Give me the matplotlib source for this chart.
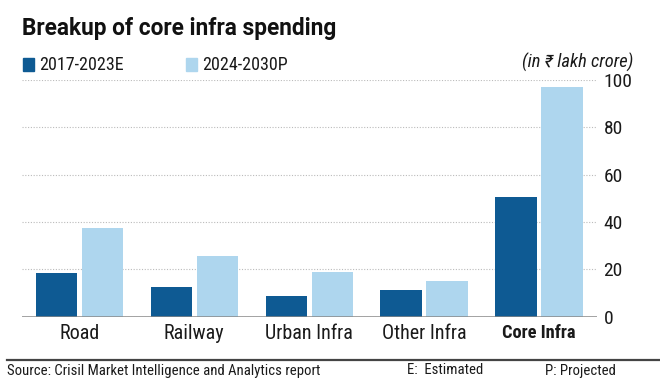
import matplotlib
matplotlib.use("Agg")
import matplotlib.pyplot as plt
from matplotlib import font_manager as fm
import numpy as np

categories = ["Road", "Railway", "Urban Infra", "Other Infra", "Core Infra"]
series_2017 = [18.4, 12.4, 8.6, 11.3, 50.6]
series_2024 = [37.3, 25.7, 18.9, 15.3, 97.0]
legend_labels = ["2017-2023E", "2024-2030P"]
y_ticks = [0, 20, 40, 60, 80, 100]

names = {f.name for f in fm.fontManager.ttflist}
COND = None
for cand in ["Roboto Condensed", "Noto Sans Condensed", "Open Sans Condensed",
             "Liberation Sans Narrow", "Noto Sans Display Condensed"]:
    if cand in names:
        COND = cand
        break
BODY = COND if COND else "Roboto"
plt.rcParams['font.family'] = [BODY, 'DejaVu Sans']
s = 1.0 if COND else 0.86  # shrink sizes if no condensed face

DARK = "#0e5a93"
LIGHT = "#aed6ee"
TXT = "#1a1a1a"

fig = plt.figure(figsize=(6.6, 3.78), dpi=100)
ax = fig.add_axes([0.033, 0.162, 0.871, 0.627])

x = np.arange(len(categories))
w = 0.36
ax.bar(x - 0.2, series_2017, width=w, color=DARK, zorder=3)
ax.bar(x + 0.2, series_2024, width=w, color=LIGHT, zorder=3)

ax.set_xlim(-0.5, len(categories) - 0.5)
ax.set_ylim(0, 100)
ax.yaxis.tick_right()
ax.set_yticks(y_ticks)
ax.tick_params(axis='y', length=0, pad=5, labelsize=14 * s, labelcolor=TXT)
ax.set_xticks(x)
ax.set_xticklabels(categories)
ax.tick_params(axis='x', length=0, pad=5, labelsize=14.5 * s, labelcolor=TXT)
lbl = ax.get_xticklabels()[-1]
lbl.set_fontweight('bold')
lbl.set_fontsize(13.2 * s)
for sp in ax.spines.values():
    sp.set_visible(False)
ax.grid(axis='y', linestyle=(0, (1, 1.5)), color="#bbbbbb", linewidth=0.8, zorder=0)
ax.axhline(0, color="#888888", linewidth=1.8, zorder=4)

fig.text(22 / 660, 1 - 34.5 / 378, "Breakup of core infra spending", fontsize=16.3,
         fontweight='bold', family=["Roboto", "DejaVu Sans"],
         color="#111111", va='baseline', ha='left')

# legend
for i, (lab, col) in enumerate(zip(legend_labels, [DARK, LIGHT])):
    x0 = [22.5, 185.5][i] / 660
    fig.patches.append(plt.Rectangle((x0, 1 - 70.7 / 378), 11.5 / 660, 12.3 / 378,
                                     transform=fig.transFigure, color=col, figure=fig))
    fig.text(x0 + 16.5 / 660, 1 - 64.5 / 378, lab, fontsize=13.0 * s, va='center',
             ha='left', color=TXT)

fig.text(633 / 660, 1 - 62 / 378, "(in ₹ lakh crore)", fontsize=13.3 * s, style='italic',
         va='center', ha='right', color=TXT)

fig.add_artist(plt.Line2D([7 / 660, 1.0], [1 - 360 / 378] * 2, transform=fig.transFigure,
                          color="#444444", linewidth=1.6))
fs_src = 10.6 * s
fig.text(7 / 660, 1 - 370.5 / 378, "Source: Crisil Market Intelligence and Analytics report",
         fontsize=fs_src, va='center', ha='left', color=TXT)
fig.text(407 / 660, 1 - 370.5 / 378, "E:  Estimated", fontsize=fs_src,
         va='center', ha='left', color=TXT)
fig.text(545 / 660, 1 - 370.5 / 378, "P: Projected", fontsize=fs_src,
         va='center', ha='left', color=TXT)

fig.savefig("out.png", dpi=100)
